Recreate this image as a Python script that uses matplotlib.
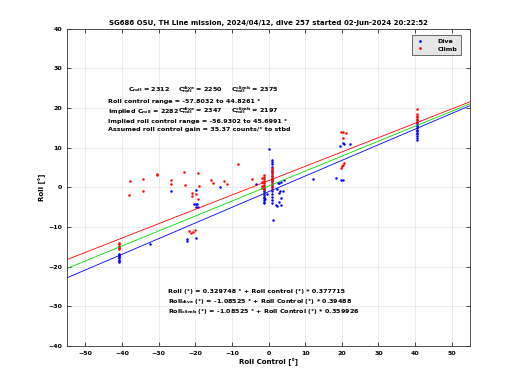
import numpy as np
import matplotlib
matplotlib.use('Agg')
import matplotlib.pyplot as plt

plt.rcParams['font.family'] = 'DejaVu Sans'
plt.rcParams['font.weight'] = 'bold'
plt.rcParams['mathtext.default'] = 'bf'

# * Dive points (blue)
dive_x = [-40.7] * 8 + [-32.4, -26.5, -19.9, -20.3, -19.9, -19.5, -19.8, -19.4,
                        -22.2, -22.2, -19.7, -13.3, -3.5] \
    + [-1.3] * 10 + [-0.4, -0.9] + [1.0] * 16 \
    + [0.05, 1.2, 2.6, 3.3, 4.2, 2.9, 2.3, 3.0, 4.0, 2.9, 3.5, 2.9, 2.2, 2.0, 3.3,
       12.0, 19.5, 20.7, 22.2, 20.4, 18.4, 19.7, 20.2] + [40.6] * 12
dive_y = [-16.7, -17.0, -17.3, -17.6, -17.9, -18.2, -18.5, -18.8,
          -14.4, -0.8, -0.6, -4.2, -4.2, -4.2, -5.0, -5.0,
          -13.1, -13.5, -12.7, 0.0, 0.9,
          0.2, -0.3, -0.8, -1.3, -1.8, -2.3, -2.8, -3.3, -3.6, -4.0,
          -1.7, -2.9,
          6.9, 6.4, 5.8, 5.2, 4.5, 3.8, 3.0, 2.2, 1.5, 0.8, 0.0, -0.8, -1.6, -2.4, -3.2, -4.0,
          9.8, -8.3, 1.0, 1.3, 1.8, 1.2, -0.3, -0.8, -0.9, -1.5, -2.8, -3.6, -4.7, -4.5, -4.5,
          2.1, 10.4, 10.9, 10.9, 11.1, 2.4, 1.8, 1.8,
          16.6, 16.2, 15.8, 15.4, 15.0, 14.6, 14.2, 13.8, 13.4, 13.0, 12.5, 12.0]

# * Climb points (red)
climb_x = [-40.7] * 6 + [-38.2, -37.9, -34.3, -34.3, -30.5, -30.5, -26.7, -26.7, -23.1,
                         -22.7, -19.4, -18.9, -21.0, -19.8, -20.8, -19.4, -15.6, -15.1,
                         -21.7, -21.2, -20.6, -20.2, -12.1, -11.3, -8.3, -4.6] \
    + [-1.3] * 8 + [-1.8] * 4 + [0.9] * 11 \
    + [19.9, 20.4, 21.0, 20.2, 19.7, 20.0, 20.4, 20.6] + [40.6] * 7
climb_y = [-14.1, -14.4, -14.7, -15.0, -15.3, -15.6,
           -1.8, 1.6, 2.0, -1.0, 3.5, 3.2, 1.9, 0.8, 3.9,
           0.6, 3.7, 0.4, -1.4, -1.7, -2.2, -3.0, 1.8, 1.1,
           -11.0, -11.4, -11.2, -10.8, 1.7, 0.8, 5.8, 2.2,
           3.1, 2.6, 2.1, 1.6, 1.1, 0.6, 0.1, -0.3,
           2.4, 1.4, 0.4, -0.2,
           4.8, 4.4, 3.9, 3.4, 2.9, 2.4, 1.9, 1.4, 0.9, 0.4, -0.3,
           14.0, 14.0, 13.6, 12.4, 4.8, 5.4, 5.6, 6.1,
           19.9, 18.5, 18.1, 17.7, 17.3, 16.9, 16.6]

# * Fit coefficients (intercept, slope)
fit_all = (0.329748, 0.377715)
fit_dive = (-1.08525, 0.39488)
fit_climb = (1.7, 0.362)
fit_x = np.array([-55, 55])

x_ticks = [-50, -40, -30, -20, -10, 0, 10, 20, 30, 40, 50]
y_ticks = [-40, -30, -20, -10, 0, 10, 20, 30, 40]

fig = plt.figure(figsize=(5.2, 3.9), dpi=100)
ax = fig.add_axes([0.129, 0.113, 0.775, 0.813])

ax.plot(dive_x, dive_y, '.', color='#0000ff', markersize=1.6, label='Dive')
ax.plot(climb_x, climb_y, '.', color='#ff0000', markersize=1.6, label='Climb')
ax.plot(fit_x, fit_all[0] + fit_all[1] * fit_x, color='#00dd00', linewidth=0.6)
ax.plot(fit_x, fit_dive[0] + fit_dive[1] * fit_x, color='#0000ff', linewidth=0.6)
ax.plot(fit_x, fit_climb[0] + fit_climb[1] * fit_x, color='#ff0000', linewidth=0.6)

ax.set_xlim(-55, 55)
ax.set_ylim(-40, 40)
ax.set_xticks(x_ticks)
ax.set_yticks(y_ticks)
ax.tick_params(direction='in', top=True, right=True, labelsize=4.5, length=3, width=0.5)
ax.grid(True, color='#e3e3e3', linewidth=0.5)
ax.set_axisbelow(True)
for s in ax.spines.values():
    s.set_linewidth(0.6)
    s.set_color('#333333')

ax.set_title('SG686 OSU, TH Line mission, 2024/04/12, dive 257 started 02-Jun-2024 20:22:52',
             fontsize=5, fontweight='bold', pad=3)
ax.set_xlabel('Roll Control [°]', fontsize=5, fontweight='bold', labelpad=2)
ax.set_ylabel('Roll [°]', fontsize=5, fontweight='bold', labelpad=2)

leg = ax.legend(loc='upper right', fontsize=4.5, markerscale=1.2, frameon=True,
                fancybox=False, borderpad=0.6, labelspacing=0.3, handletextpad=2.0,
                handlelength=1.5, bbox_to_anchor=(0.985, 0.99))
leg.get_frame().set_facecolor('#e6e6e6')
leg.get_frame().set_edgecolor('#333333')
leg.get_frame().set_linewidth(0.5)
leg.get_frame().set_alpha(1)

fs = 4.6
def ftext(px, py, s):
    fig.text(px / 520, 1 - py / 390, s, fontsize=fs, fontweight='bold', va='center', ha='left')

ftext(128, 90, r'C$_{roll}$ = 2312')
ftext(178, 90, r'C$_{roll}^{dive}$ = 2250')
ftext(231, 90, r'C$_{roll}^{climb}$ = 2375')
ftext(108, 101, 'Roll control range = -57.8032 to 44.8261 °')
ftext(108, 111, r'Implied C$_{roll}$ = 2282')
ftext(178, 111, r'C$_{roll}^{dive}$ = 2347')
ftext(231, 111, r'C$_{roll}^{climb}$ = 2197')
ftext(108, 121, 'Implied roll control range = -56.9302 to 45.6991 °')
ftext(108, 130, 'Assumed roll control gain = 35.37 counts/° to stbd')

ftext(168, 292, 'Roll (°) = 0.329748 ° + Roll control (°) * 0.377715')
ftext(168, 301, r'Roll$_{dive}$ (°) = -1.08525 ° + Roll Control (°) * 0.39488')
ftext(168, 311, r'Roll$_{climb}$ (°) = -1.08525 ° + Roll Control (°) * 0.359926')

fig.savefig('out.png', dpi=100)
